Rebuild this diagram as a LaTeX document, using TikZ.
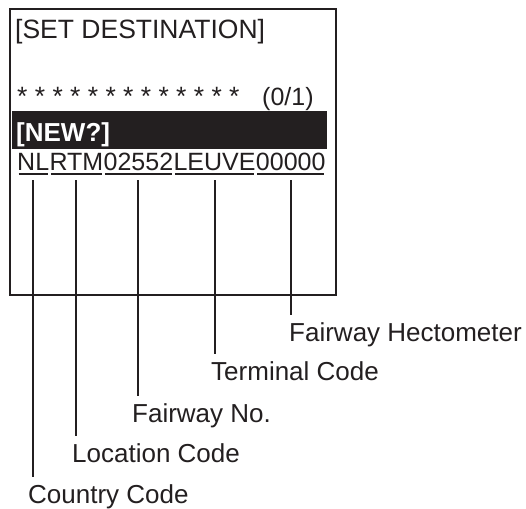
\documentclass[tikz,border=0pt]{standalone}
\usepackage{fontspec}
\setmainfont{Liberation Sans}
\usepackage{xcolor}
\usepackage{tikz}
\definecolor{inkblack}{HTML}{231F20}

\begin{document}
\begin{tikzpicture}[
      x=1pt,
      y=-1pt,
      line cap=butt,
      screentext/.style={inner sep=0pt, anchor=base west, text=inkblack,
        font=\fontsize{26.5}{30}\selectfont},
      codepart/.style={inner sep=0pt, anchor=base west, text=inkblack,
        font=\fontsize{25}{30}\selectfont},
      calltext/.style={inner sep=0pt, anchor=base west, text=inkblack,
        font=\fontsize{26}{30}\selectfont},
      leader/.style={draw=inkblack, line width=2pt},
      codeline/.style={draw=inkblack, line width=1.6pt}
    ]
      \useasboundingbox (0,0) rectangle (526,508);

      % Display frame and the highlighted entry bar.
      \draw[inkblack, line width=2.6pt] (10,9) rectangle (336,295);
      \fill[inkblack] (12,111) rectangle (327,149);

      % Screen contents.
      \node[screentext] (title) at (15,39) {[SET DESTINATION]};
      \node[codepart, font=\fontsize{26.5}{30}\selectfont]
        (stars) at (17,106) {* * * * * * * * * * * * *};
      \node[codepart] (count) at (262,106) {(0/1)};
      \node[screentext, text=white, font=\fontsize{26}{30}\selectfont\bfseries]
        (newentry) at (16,141) {[NEW?]};

      % The destination code, one node per field so each can be underlined.
      \node[codepart] (nl) at (17,170) {NL};
      \node[codepart] (rtm) at (nl.base east) {RTM};
      \node[codepart] (fairway) at (rtm.base east) {02552};
      \node[codepart] (leuve) at (fairway.base east) {LEUVE};
      \node[codepart] (hecto) at (leuve.base east) {00000};

      % Callout texts, stepping down to the left.
      \node[calltext] (hectolabel) at (289,341) {Fairway Hectometer};
      \node[calltext] (terminal) at (211,380) {Terminal Code};
      \node[calltext] (fairwayno) at (132,422) {Fairway No.};
      \node[calltext] (location) at (72,462) {Location Code};
      \node[calltext] (country) at (28,503) {Country Code};

      \foreach \field/\callout in {nl/country, rtm/location, fairway/fairwayno,
                                   leuve/terminal, hecto/hectolabel} {
        % Underline of the field, a little short at both ends.
        \draw[codeline] ([xshift=1.5pt,yshift=-4pt]\field.base west)
          -- ([xshift=-1.5pt,yshift=-4pt]\field.base east);
        % Leader from the field down to its callout.
        \draw[leader] ([yshift=-10pt]\field.south)
          -- ([yshift=7pt]\callout.north -| \field.south);
      }
    \end{tikzpicture}
\end{document}
